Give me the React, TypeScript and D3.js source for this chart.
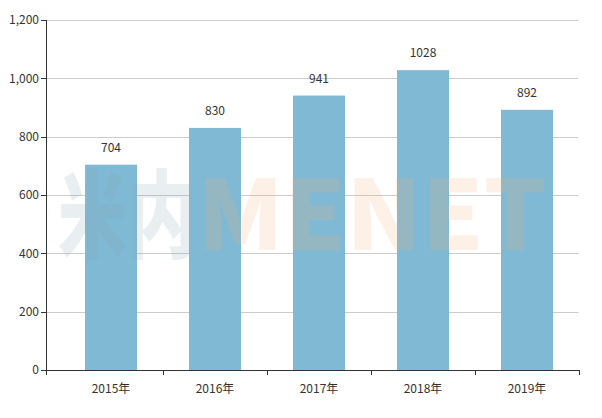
import React from 'react';
import * as d3 from 'd3';

const years = ['2015年', '2016年', '2017年', '2018年', '2019年'];
const values = [704, 830, 941, 1028, 892];
const yTicks = [0, 200, 400, 600, 800, 1000, 1200];

const width = 602;
const height = 418;
const axisX = 46;
const font = '"Noto Sans CJK SC", "Noto Sans", sans-serif';

const App: React.FC = () => {
  const x = d3.scaleBand<string>().domain(years).range([59, 579]).paddingInner(0.5).paddingOuter(0.25);
  const y = d3.scaleLinear().domain([0, 1200]).range([370, 20]);
  const fmt = d3.format(',');
  const edges = years.map(c => (x(c) as number) - (x.step() * x.paddingInner()) / 2);
  const tickXs = [axisX, ...edges.slice(1), 578.5];

  return (
    <svg width={width} height={height} style={{ position: 'absolute', left: 0, top: 0 }}>
      <rect width={width} height={height} fill="#fff" />
      {/* grid */}
      {yTicks.filter(t => t > 0).map(t => (
        <line key={t} x1={axisX} x2={578.5} y1={Math.round(y(t)) + 0.5} y2={Math.round(y(t)) + 0.5} stroke="#cccccc" strokeWidth={1} />
      ))}
      {/* bars */}
      {values.map((v, i) => (
        <rect key={years[i]} x={x(years[i])} y={y(v)} width={x.bandwidth()} height={y(0) - y(v)} fill="#80b9d3" />
      ))}
      {/* watermark */}
      <g fontFamily={font} fontWeight={900} fontSize={96} opacity={0.18}>
        <text x={58} y={250} fill="#8aa4b4" textLength={138} lengthAdjust="spacingAndGlyphs">米内</text>
        <text x={197} y={250} fill="#f6b27a" textLength={350} lengthAdjust="spacingAndGlyphs">MENET</text>
      </g>
      {/* value labels */}
      {values.map((v, i) => (
        <text key={'l' + i} x={(x(years[i]) as number) + x.bandwidth() / 2} y={y(v) - 13} textAnchor="middle"
          fontFamily={font} fontSize={12} fill="#333">{v}</text>
      ))}
      {/* y axis */}
      <line x1={axisX + 0.5} x2={axisX + 0.5} y1={y(1200)} y2={y(0)} stroke="#333" />
      {yTicks.map(t => (
        <g key={'y' + t}>
          <line x1={axisX - 5} x2={axisX} y1={Math.round(y(t)) + 0.5} y2={Math.round(y(t)) + 0.5} stroke="#333" />
          <text x={axisX - 7} y={y(t)} dy="0.35em" textAnchor="end" fontFamily={font} fontSize={12} fill="#333">{fmt(t)}</text>
        </g>
      ))}
      {/* x axis */}
      <line x1={axisX} x2={579} y1={Math.round(y(0)) + 0.5} y2={Math.round(y(0)) + 0.5} stroke="#333" />
      {tickXs.map((tx, i) => (
        <line key={'t' + i} x1={Math.round(tx) + 0.5} x2={Math.round(tx) + 0.5} y1={y(0)} y2={y(0) + 5} stroke="#333" />
      ))}
      {years.map(c => (
        <text key={c} x={(x(c) as number) + x.bandwidth() / 2} y={389} dy="0.35em" textAnchor="middle"
          fontFamily={font} fontSize={12} fill="#333">{c}</text>
      ))}
    </svg>
  );
};

export default App;
